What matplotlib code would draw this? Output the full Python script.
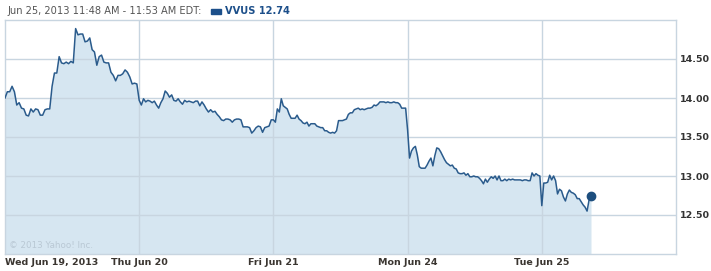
import numpy as np
import matplotlib
matplotlib.use('Agg')
import matplotlib.pyplot as plt

# VVUS intraday prices, 5 trading days
wed = [14.00, 14.08, 14.08, 14.15, 14.08, 13.91, 13.94, 13.87, 13.86, 13.78, 13.77, 13.86,
       13.82, 13.86, 13.85, 13.78, 13.78, 13.85, 13.86, 13.86, 14.15, 14.32, 14.32, 14.53,
       14.45, 14.44, 14.46, 14.44, 14.47, 14.45, 14.89, 14.81, 14.82, 14.82, 14.72, 14.73,
       14.77, 14.62, 14.59, 14.42, 14.53, 14.55, 14.46, 14.45, 14.45, 14.33, 14.29, 14.22,
       14.29, 14.29, 14.31, 14.36, 14.33, 14.27, 14.18, 14.19, 14.18]
thu = [13.97, 13.91, 13.99, 13.95, 13.97, 13.96, 13.94, 13.96, 13.91, 13.87, 13.94, 13.99,
       14.09, 14.06, 14.01, 14.04, 13.97, 13.96, 13.99, 13.95, 13.92, 13.97, 13.95, 13.96,
       13.95, 13.94, 13.96, 13.96, 13.90, 13.95, 13.91, 13.86, 13.82, 13.85, 13.82, 13.83,
       13.79, 13.76, 13.72, 13.71, 13.73, 13.73, 13.72, 13.69, 13.72, 13.73, 13.73, 13.72,
       13.63, 13.63, 13.63, 13.62, 13.55, 13.58, 13.62, 13.64, 13.63, 13.56, 13.62, 13.63,
       13.64, 13.72]
fri = [13.72, 13.69, 13.86, 13.82, 13.99, 13.90, 13.88, 13.86, 13.79, 13.74, 13.74, 13.74,
       13.78, 13.73, 13.71, 13.68, 13.67, 13.69, 13.64, 13.67, 13.67, 13.67, 13.64, 13.63,
       13.62, 13.62, 13.58, 13.58, 13.56, 13.55, 13.56, 13.55, 13.58, 13.71, 13.71, 13.71,
       13.72, 13.73, 13.79, 13.81, 13.81, 13.85, 13.86, 13.87, 13.85, 13.86, 13.85, 13.86,
       13.87, 13.87, 13.88, 13.91, 13.90, 13.92, 13.95, 13.95, 13.95, 13.94, 13.95, 13.94,
       13.94, 13.95, 13.94, 13.94, 13.92, 13.87, 13.87, 13.87]
mon = [13.59, 13.23, 13.32, 13.36, 13.38, 13.27, 13.12, 13.10, 13.10, 13.10, 13.14, 13.19,
       13.23, 13.13, 13.26, 13.36, 13.35, 13.31, 13.26, 13.21, 13.17, 13.15, 13.13, 13.14,
       13.10, 13.09, 13.04, 13.03, 13.03, 13.04, 13.01, 13.03, 12.99, 12.99, 13.00, 12.99,
       12.99, 12.97, 12.94, 12.90, 12.96, 12.92, 12.96, 12.99, 12.97, 13.00, 12.95, 13.00,
       12.94, 12.94, 12.96, 12.94, 12.96, 12.95, 12.96, 12.95, 12.95, 12.95, 12.95, 12.94,
       12.95, 12.95, 12.94, 12.94, 13.04, 13.00, 13.03, 13.01, 13.00]
tue = [12.62, 12.91, 12.91, 12.92, 13.01, 12.95, 13.00, 12.94, 12.77, 12.83, 12.81, 12.73,
       12.68, 12.77, 12.82, 12.79, 12.78, 12.76, 12.71, 12.71, 12.67, 12.63, 12.60, 12.55,
       12.69, 12.74]
days = [wed, thu, fri, mon, tue]
day_labels = ['Wed Jun 19, 2013', 'Thu Jun 20', 'Fri Jun 21', 'Mon Jun 24', 'Tue Jun 25']
tue_done = 143 / 390.0   # 9:30 -> 11:53 out of a 6.5h session
yticks = [12.5, 13.0, 13.5, 14.0, 14.5]

xs, ys = [], []
for i, d in enumerate(days):
    span = tue_done if i == 4 else 1.0
    xs += list(i + np.linspace(0, span, len(d), endpoint=(i == 4)))
    ys += d
xs = np.array(xs)
ys = np.array(ys)

line_c = '#2a5b8c'
fill_c = '#d6e6f1'
grid_c = '#c8d5e0'

fig = plt.figure(figsize=(7.11, 2.71), dpi=100)
ax = fig.add_axes([5 / 711, 17 / 271, 671 / 711, 234 / 271])
ax.set_xlim(0, 5)
ax.set_ylim(12.0, 15.0)

ax.fill_between(xs, ys, 12.0, color=fill_c, lw=0, zorder=1)
for yt in yticks:
    ax.axhline(yt, color=grid_c, lw=1, zorder=2)
for i in range(1, 5):
    ax.axvline(i, color=grid_c, lw=1, zorder=2)
ax.plot(xs, ys, color=line_c, lw=1.1, zorder=3)
ax.plot(xs[-1], ys[-1], 'o', color='#1d4e7e', ms=6, zorder=4)

for s in ax.spines.values():
    s.set_color(grid_c)
    s.set_linewidth(1)

ax.yaxis.tick_right()
ax.set_yticks(yticks)
ax.set_yticklabels(['%.2f' % v for v in yticks], fontsize=6.8, fontweight='bold', color='#333333')
ax.tick_params(axis='y', length=0, pad=3)
ax.set_xticks([])

for i, lab in enumerate(day_labels):
    ax.text(i + (0.003 if i == 0 else 0), -0.016, lab, transform=ax.get_xaxis_transform(),
            ha='left' if i == 0 else 'center', va='top', fontsize=6.8, fontweight='bold', color='#3a3530')

ax.text(0.006, 0.015, '\u00a9 2013 Yahoo! Inc.', transform=ax.transAxes, fontsize=6.3,
        color='#b9c8d4', va='bottom', ha='left')

fig.text(7 / 711, 1 - 11 / 271, 'Jun 25, 2013 11:48 AM - 11:53 AM EDT:', fontsize=7.1,
         color='#555555', va='center', ha='left')
fig.patches.append(plt.Rectangle((211 / 711, 1 - 14 / 271), 10 / 711, 5 / 271,
                                 transform=fig.transFigure, color='#1c4f8a', figure=fig))
fig.text(225 / 711, 1 - 11 / 271, 'VVUS 12.74', fontsize=7.1, fontweight='bold',
         color='#1c4f8a', va='center', ha='left')

fig.savefig('out.png', dpi=100)
